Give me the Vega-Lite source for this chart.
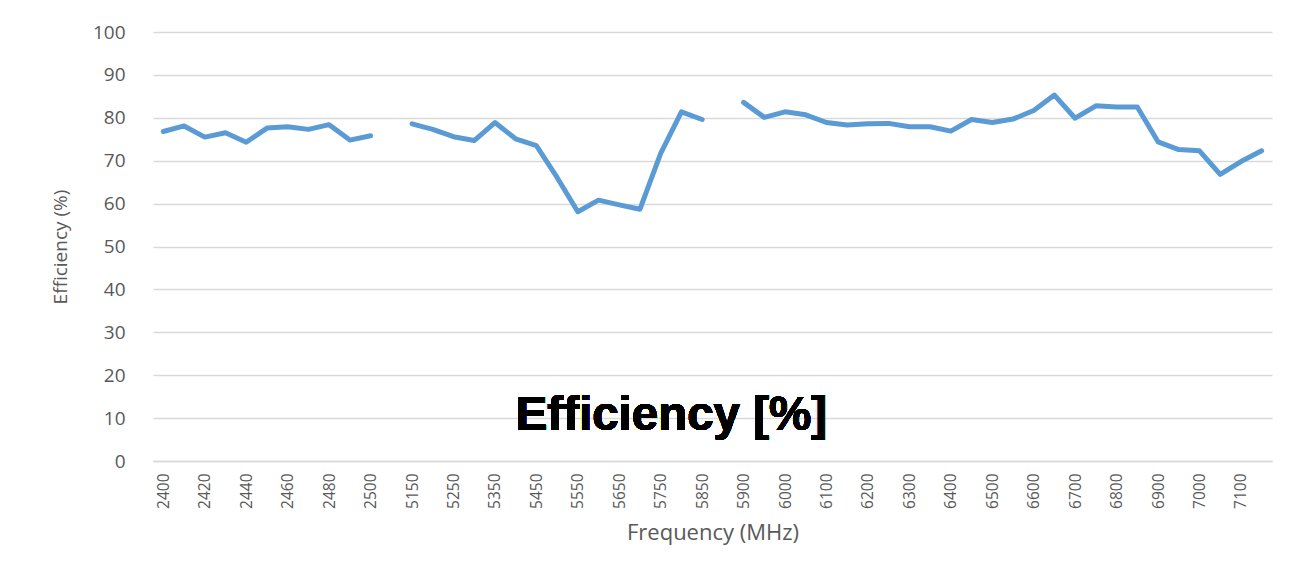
{
  "$schema": "https://vega.github.io/schema/vega-lite/v6.json",
  "autosize": {"type": "none"},
  "width": 1119,
  "height": 429,
  "padding": {"left": 153, "top": 32, "right": 37, "bottom": 105},
  "background": "white",
  "config": {
    "view": {"stroke": null},
    "axis": {"labelFont": "Open Sans", "titleFont": "Open Sans", "labelColor": "#595959", "titleColor": "#595959", "titleFontWeight": "normal"}
  },
  "data": {
    "values": [
      {"f": "2400", "eff": 76.8}, {"f": "2410", "eff": 78.1}, {"f": "2420", "eff": 75.5}, {"f": "2430", "eff": 76.5},
      {"f": "2440", "eff": 74.3}, {"f": "2450", "eff": 77.6}, {"f": "2460", "eff": 77.9}, {"f": "2470", "eff": 77.3},
      {"f": "2480", "eff": 78.4}, {"f": "2490", "eff": 74.8}, {"f": "2500", "eff": 75.8},
      {"f": "gap1", "eff": null},
      {"f": "5150", "eff": 78.6}, {"f": "5200", "eff": 77.3}, {"f": "5250", "eff": 75.6}, {"f": "5300", "eff": 74.7},
      {"f": "5350", "eff": 78.9}, {"f": "5400", "eff": 75.1}, {"f": "5450", "eff": 73.5}, {"f": "5500", "eff": 66.1},
      {"f": "5550", "eff": 58.1}, {"f": "5600", "eff": 60.8}, {"f": "5650", "eff": 59.7}, {"f": "5700", "eff": 58.7},
      {"f": "5750", "eff": 71.7}, {"f": "5800", "eff": 81.4}, {"f": "5850", "eff": 79.6},
      {"f": "gap2", "eff": null},
      {"f": "5900", "eff": 83.6}, {"f": "5950", "eff": 80.1}, {"f": "6000", "eff": 81.4}, {"f": "6050", "eff": 80.7},
      {"f": "6100", "eff": 78.9}, {"f": "6150", "eff": 78.3}, {"f": "6200", "eff": 78.6}, {"f": "6250", "eff": 78.7},
      {"f": "6300", "eff": 77.9}, {"f": "6350", "eff": 77.9}, {"f": "6400", "eff": 76.9}, {"f": "6450", "eff": 79.6},
      {"f": "6500", "eff": 78.9}, {"f": "6550", "eff": 79.7}, {"f": "6600", "eff": 81.7}, {"f": "6650", "eff": 85.3},
      {"f": "6700", "eff": 79.9}, {"f": "6750", "eff": 82.8}, {"f": "6800", "eff": 82.5}, {"f": "6850", "eff": 82.5},
      {"f": "6900", "eff": 74.4}, {"f": "6950", "eff": 72.6}, {"f": "7000", "eff": 72.3}, {"f": "7050", "eff": 66.8},
      {"f": "7100", "eff": 69.8}, {"f": "7150", "eff": 72.3}
    ]
  },
  "layer": [
    {
      "mark": {"type": "line", "color": "#5b9bd5", "strokeWidth": 5, "strokeJoin": "round", "strokeCap": "round", "invalid": "break-paths-show-domains"},
      "encoding": {
        "x": {
          "field": "f", "type": "ordinal", "sort": null,
          "axis": {
            "title": "Frequency (MHz)", "titleFontSize": 22, "titlePadding": 14,
            "labelAngle": -90, "labelFontSize": 15.5, "labelPadding": 12,
            "ticks": false, "domainColor": "#d9d9d9", "domainWidth": 1.5,
            "values": ["2400","2420","2440","2460","2480","2500","5150","5250","5350","5450","5550","5650","5750","5850","5900","6000","6100","6200","6300","6400","6500","6600","6700","6800","6900","7000","7100"]
          }
        },
        "y": {
          "field": "eff", "type": "quantitative",
          "scale": {"domain": [0, 100], "nice": false},
          "axis": {
            "title": "Efficiency (%)", "titleFontSize": 19, "titlePadding": 22,
            "values": [0,10,20,30,40,50,60,70,80,90,100],
            "labelFontSize": 19, "labelPadding": 28, "ticks": false, "domain": false,
            "gridColor": "#d9d9d9", "gridWidth": 1.5
          }
        }
      }
    },
    {
      "mark": {"type": "text", "text": "Efficiency [%]", "font": "Liberation Sans", "fontWeight": "bold", "fontSize": 47.5, "color": "black", "align": "left", "baseline": "alphabetic"},
      "encoding": {
        "x": {"datum": "5400"},
        "y": {"datum": 7.2}
      }
    }
  ]
}
